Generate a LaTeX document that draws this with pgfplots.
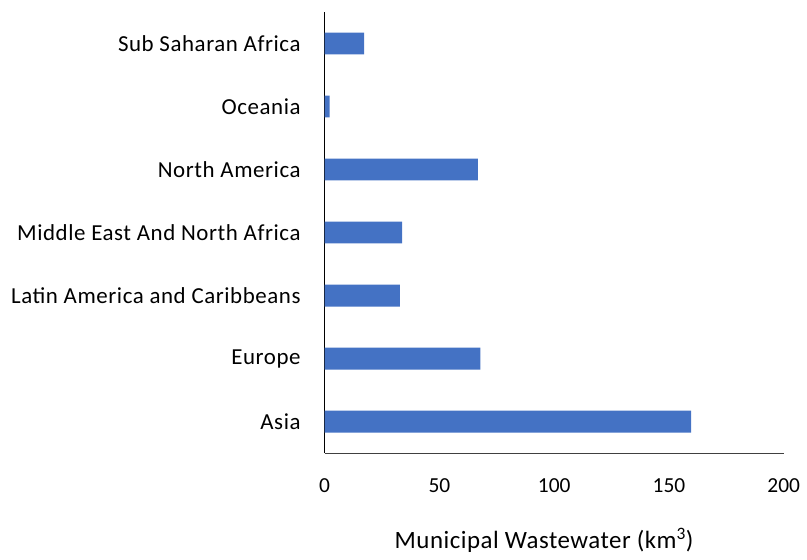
\documentclass[border=0pt]{standalone}
\usepackage{fontspec}
\setmainfont{Carlito}
\newfontfamily\labelfont[LetterSpace=2.5]{Carlito}
\newfontfamily\xlabelfont[LetterSpace=2]{Carlito}
\usepackage{pgfplots}
\pgfplotsset{compat=1.18}
\definecolor{barblue}{HTML}{4472C4}
\begin{document}
\fontsize{21bp}{24bp}\selectfont
\begin{tikzpicture}
\begin{axis}[
  scale only axis,
  width=461bp, height=443bp,
  xbar,
  xmin=0, xmax=200,
  ymin=-0.5, ymax=6.5,
  bar width=22bp,
  axis x line*=bottom,
  axis y line*=left,
  x axis line style={draw=black!75, line width=1.1pt},
  y axis line style={draw=black, line width=1pt},
  major tick length=0pt,
  xtick={0,50,100,150,200},
  ytick={0,1,2,3,4,5,6},
  yticklabels={Asia,Europe,Latin America and Caribbeans,Middle East And North Africa,North America,Oceania,Sub Saharan Africa},
  /pgf/number format/assume math mode=true,
  xticklabel style={font=\fontsize{21.5bp}{24bp}\selectfont, text=black, yshift=-18bp},
  yticklabel style={font=\labelfont\fontsize{23bp}{26bp}\selectfont, text=black, xshift=-17bp},
  xlabel={Municipal Wastewater (km\textsuperscript{3})},
  xlabel style={font=\xlabelfont\fontsize{25bp}{28bp}\selectfont, at={(axis description cs:0.478,0)}, anchor=base, yshift=-96bp},
]
\addplot[fill=barblue, draw=none] coordinates {
  (159.7,0) (67.8,1) (32.8,2) (33.8,3) (66.8,4) (2.2,5) (17.2,6)
};
\end{axis}
\path (current axis.south west) ++(-326bp,-102bp) (current axis.north east) ++(20bp,12bp);
\end{tikzpicture}
\end{document}
